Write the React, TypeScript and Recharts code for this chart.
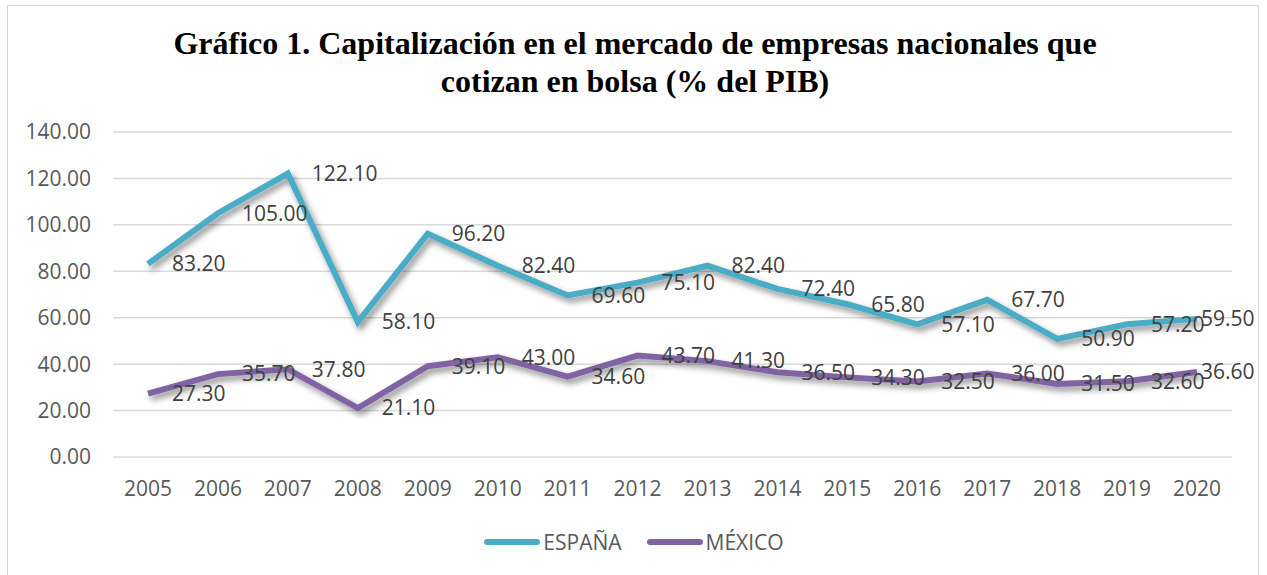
import React from 'react';
import { LineChart, Line, XAxis, YAxis, CartesianGrid, LabelList, Legend } from 'recharts';

const years = ['2005','2006','2007','2008','2009','2010','2011','2012','2013','2014','2015','2016','2017','2018','2019','2020'];
const espana = [83.2, 105.0, 122.1, 58.1, 96.2, 82.4, 69.6, 75.1, 82.4, 72.4, 65.8, 57.1, 67.7, 50.9, 57.2, 59.5];
const mexico = [27.3, 35.7, 37.8, 21.1, 39.1, 43.0, 34.6, 43.7, 41.3, 36.5, 34.3, 32.5, 36.0, 31.5, 32.6, 36.6];
const yTicks = [0, 20, 40, 60, 80, 100, 120, 140];
const seriesNames = ['ESPAÑA', 'MÉXICO'];
const titleLines = ['Gráfico 1. Capitalización en el mercado de empresas nacionales que', 'cotizan en bolsa (% del PIB)'];

const data = years.map((y, i) => ({ year: y, espana: espana[i], mexico: mexico[i] }));

const COLORS = ['#4BACC6', '#8064A2'];
const FONT = '"Open Sans", "Noto Sans", sans-serif';
const LAST = years.length - 1;

const fmt = (v: any) => Number(v).toFixed(2);

const PointLabel = (props: any) => {
  const { x, y, value, index } = props;
  const dx = index === LAST ? 4 : 24;
  return (
    <text x={x + dx} y={y} dy="0.35em" textAnchor="start" fill="#404040" fontSize={21} fontFamily={FONT}>
      {fmt(value)}
    </text>
  );
};

const LegendContent = () => (
  <div style={{ height: 28, display: 'flex', justifyContent: 'center', alignItems: 'center', fontFamily: FONT, fontSize: 21, color: '#595959' }}>
    {seriesNames.map((n, i) => (
      <div key={n} style={{ display: 'flex', alignItems: 'center', marginRight: i === 0 ? 24 : 0 }}>
        <svg width={58} height={8} style={{ marginRight: 2 }}>
          <line x1={4} y1={4} x2={54} y2={4} stroke={COLORS[i]} strokeWidth={6} strokeLinecap="round" />
        </svg>
        <span>{n}</span>
      </div>
    ))}
  </div>
);

export default function App() {
  return (
    <div style={{ position: 'absolute', left: 0, top: 0, width: 1267, height: 575, background: '#fff', overflow: 'hidden' }}>
      <div style={{ position: 'absolute', left: 7, top: 5, width: 1252, height: 620, border: '1.5px solid #D9D9D9', boxSizing: 'border-box' }} />
      <div style={{ position: 'absolute', left: 0, top: 24, width: 1270, textAlign: 'center', fontFamily: '"Liberation Serif", "Times New Roman", serif', fontWeight: 'bold', fontSize: 32, lineHeight: '38px', color: '#000' }}>
        {titleLines.map((t) => (<div key={t}>{t}</div>))}
      </div>
      <div style={{ position: 'absolute', left: 0, top: 0 }}>
        <LineChart width={1267} height={575} data={data} margin={{ top: 132, right: 35, bottom: 60, left: 33 }}>
          <defs>
            <filter id="lineShadow" x="-10%" y="-20%" width="120%" height="140%">
              <feDropShadow dx="3" dy="4" stdDeviation="3" floodColor="#000" floodOpacity="0.45" />
            </filter>
          </defs>
          <CartesianGrid vertical={false} stroke="#D9D9D9" strokeWidth={1.5} />
          <XAxis dataKey="year" axisLine={false} tickLine={false} tickSize={0} tickMargin={24} padding={{ left: 35, right: 35 }} interval={0}
            tick={{ fill: '#595959', fontSize: 21, fontFamily: FONT }} />
          <YAxis width={80} domain={[0, 140]} ticks={yTicks} axisLine={false} tickLine={false} tickSize={0} tickMargin={22}
            tickFormatter={fmt} tick={{ fill: '#595959', fontSize: 21, fontFamily: FONT }} />
          <Legend verticalAlign="bottom" content={<LegendContent />} wrapperStyle={{ top: 528, left: 0, width: 1267 }} />
          <Line type="linear" dataKey="espana" name={seriesNames[0]} stroke={COLORS[0]} strokeWidth={6} dot={false} isAnimationActive={false} filter="url(#lineShadow)">
            <LabelList dataKey="espana" content={<PointLabel />} />
          </Line>
          <Line type="linear" dataKey="mexico" name={seriesNames[1]} stroke={COLORS[1]} strokeWidth={6} dot={false} isAnimationActive={false} filter="url(#lineShadow)">
            <LabelList dataKey="mexico" content={<PointLabel />} />
          </Line>
        </LineChart>
      </div>
    </div>
  );
}
